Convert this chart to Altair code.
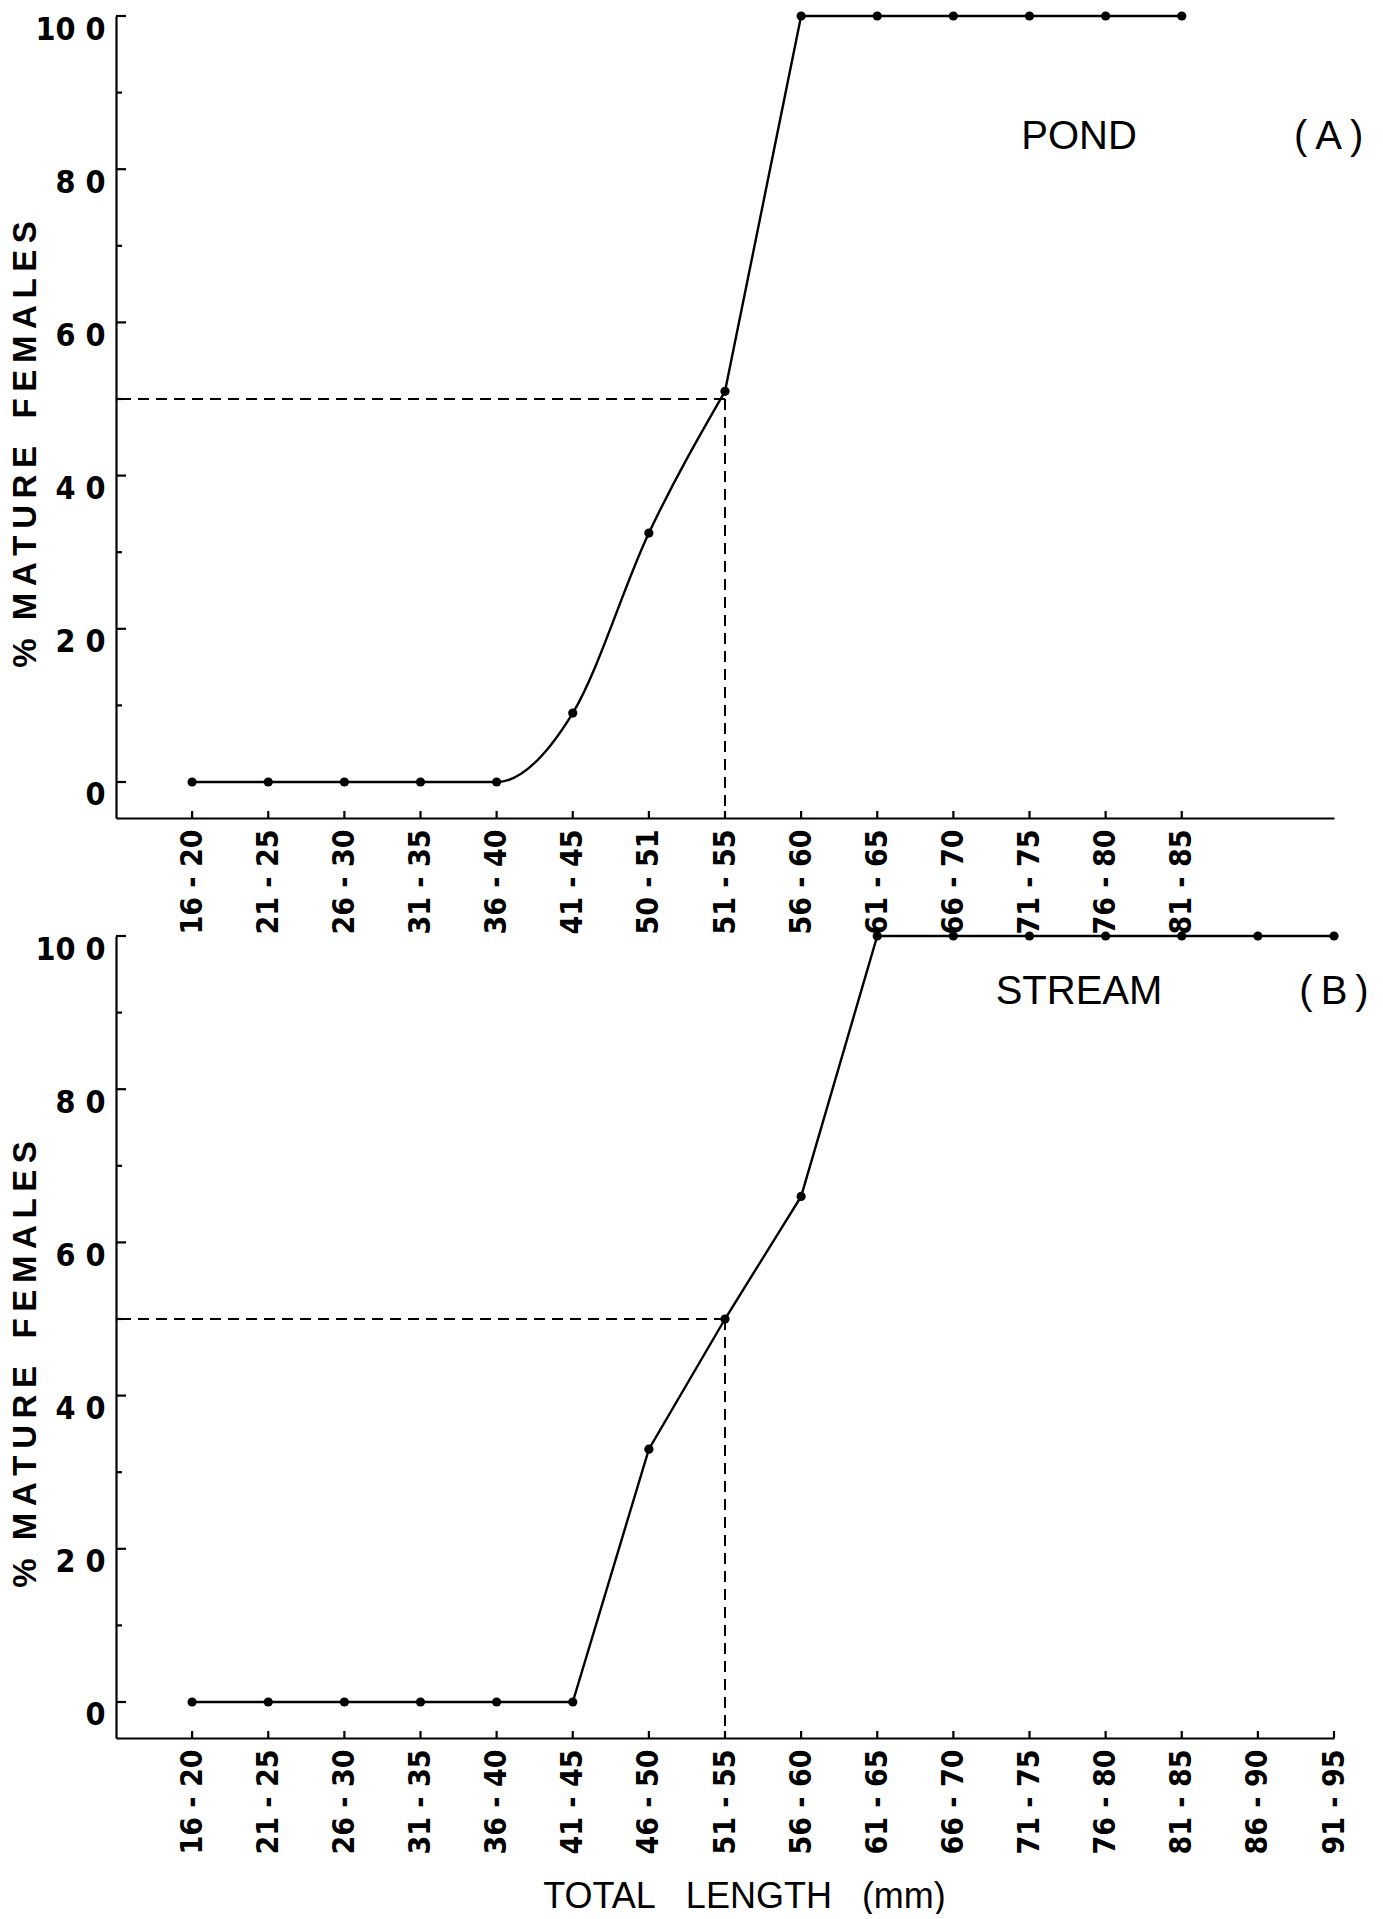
import json
import altair as alt
import pandas as pd

# ---------------- data ----------------
pond_labels = ["16-20", "21-25", "26-30", "31-35", "36-40", "41-45", "50-51",
               "51-55", "56-60", "61-65", "66-70", "71-75", "76-80", "81-85"]
pond_values = [0, 0, 0, 0, 0, 9, 32.5, 51, 100, 100, 100, 100, 100, 100]

stream_labels = ["16-20", "21-25", "26-30", "31-35", "36-40", "41-45", "46-50",
                 "51-55", "56-60", "61-65", "66-70", "71-75", "76-80", "81-85",
                 "86-90", "91-95"]
stream_values = [0, 0, 0, 0, 0, 0, 33, 50, 66, 100, 100, 100, 100, 100, 100, 100]

y_tick_values = [0, 20, 40, 60, 80, 100]
y_tick_labels = ["0", "2 0", "4 0", "6 0", "8 0", "10 0"]
y_minor_values = [10, 30, 50, 70, 90]

half_level = 50          # 50 % maturity level (dashed lines)
l50_class = "51-55"      # length class at 50 % maturity

# ---------------- layout / style ----------------
W = 1218
H = 802
N_SLOTS = 16
Y_MIN = -4.7
FONT_NUM = "Liberation Sans Narrow, DejaVu Sans Condensed, Liberation Sans, sans-serif"
FONT_TXT = "Liberation Sans, DejaVu Sans, sans-serif"
NB = "\u00a0"
TS = "\u2009"

y_title = "%" + NB * 2 + TS.join("MATURE") + NB * 3 + TS.join("FEMALES")
x_title = "TOTAL" + NB * 3 + "LENGTH" + NB * 3 + "(mm)"

xs = alt.Scale(domain=[0, N_SLOTS], nice=False, zero=False)
ys = alt.Scale(domain=[Y_MIN, 100], nice=False, zero=False)


def panel(labels, values, name, tag, name_xy, tag_xy, curve_until, with_xtitle):
    n = len(labels)
    df = pd.DataFrame({"i": list(range(1, n + 1)), "label": labels, "pct": values})
    label_expr = "replace(" + json.dumps(labels) + "[round(datum.value) - 1], '-', ' - ')"
    ylab_expr = json.dumps(y_tick_labels) + "[round(datum.value / 20)]"

    x_axis_kw = dict(
        values=list(range(1, n + 1)), labelExpr=label_expr, labelAngle=270,
        labelFont=FONT_NUM, labelFontSize=30, labelFontWeight="bold",
        labelPadding=11, ticks=False, grid=False, domainColor="black",
        domainWidth=2.2, labelColor="black", labelOverlap=False,
    )
    if with_xtitle:
        x_axis_kw.update(title=x_title, titleFont=FONT_TXT, titleFontSize=36,
                         titleFontWeight="normal", titleColor="black",
                         titleX=628, titleY=158, titleBaseline="middle",
                         titleAlign="center")
    else:
        x_axis_kw.update(title=None)
    x_axis = alt.Axis(**x_axis_kw)
    y_axis = alt.Axis(
        values=y_tick_values, labelExpr=ylab_expr, labelFont=FONT_NUM,
        labelFontSize=32, labelFontWeight="bold", labelColor="black",
        labelPadding=11, labelBaseline="alphabetic", labelOffset=23,
        ticks=False, grid=False, domainColor="black", domainWidth=2.2,
        title=y_title, titleFont=FONT_TXT, titleFontSize=33,
        titleFontWeight="bold", titleColor="black", titleX=-91, titleY=428,
        titleAngle=270, titleBaseline="middle", titleAlign="center",
    )

    def X(f):
        return alt.X(f, scale=xs, axis=x_axis)

    def Y(f):
        return alt.Y(f, scale=ys, axis=y_axis)

    base = alt.Chart(df)
    line_layers = []
    if curve_until is not None:
        line_layers.append(
            base.transform_filter(alt.datum.i <= curve_until)
            .mark_line(color="black", strokeWidth=2.4, interpolate="monotone")
            .encode(x=X("i:Q"), y=Y("pct:Q"))
        )
        line_layers.append(
            base.transform_filter(alt.datum.i >= curve_until)
            .mark_line(color="black", strokeWidth=2.4)
            .encode(x=X("i:Q"), y=Y("pct:Q"))
        )
    else:
        line_layers.append(
            base.mark_line(color="black", strokeWidth=2.4)
            .encode(x=X("i:Q"), y=Y("pct:Q"))
        )

    pts = base.mark_circle(color="black", opacity=1, size=85).encode(
        x=X("i:Q"), y=Y("pct:Q"))

    l50 = pd.DataFrame({"i50": [labels.index(l50_class) + 1], "half": [half_level]})
    hdash = alt.Chart(l50).mark_rule(color="black", strokeWidth=2, strokeDash=[11, 7]).encode(
        x=X("i50:Q"), x2=alt.value(0), y=Y("half:Q"))
    vdash = alt.Chart(l50).mark_rule(color="black", strokeWidth=2, strokeDash=[11, 7]).encode(
        x=X("i50:Q"), y=Y("half:Q"), y2=alt.value(H))

    ymaj = alt.Chart(pd.DataFrame({"t": y_tick_values})).mark_rule(color="black", strokeWidth=2.2).encode(
        y=Y("t:Q"), x=alt.value(0), x2=alt.value(10))
    ymin = alt.Chart(pd.DataFrame({"t": y_minor_values})).mark_rule(color="black", strokeWidth=2.2).encode(
        y=Y("t:Q"), x=alt.value(0), x2=alt.value(6))
    xtk = alt.Chart(pd.DataFrame({"i": list(range(1, n + 1))})).mark_rule(color="black", strokeWidth=2.2).encode(
        x=X("i:Q"), y=alt.value(H), y2=alt.value(H - 7))

    ann = pd.DataFrame({"txt": [name, tag],
                        "ax": [name_xy[0], tag_xy[0]],
                        "ay": [name_xy[1], tag_xy[1]]})
    texts = alt.Chart(ann).mark_text(font=FONT_TXT, fontSize=40, color="black",
                                     align="center", baseline="middle").encode(
        x=X("ax:Q"), y=Y("ay:Q"), text="txt:N")

    return alt.layer(*line_layers, pts, hdash, vdash, ymaj, ymin, xtk, texts).properties(
        width=W, height=H)


top = panel(pond_labels, pond_values, "POND", "(" + TS + "A" + TS + ")",
            (12.65, 84.2), (15.93, 84.2), 8, False)
bottom = panel(stream_labels, stream_values, "STREAM", "(" + TS + "B" + TS + ")",
               (12.65, 92.7), (16.0, 92.7), None, True)

chart = alt.vconcat(top, bottom, spacing=118, bounds="flush").properties(
    padding={"left": 9, "top": 11, "right": 5, "bottom": 0},
    background="white",
).configure_view(stroke=None)

chart.save("out.html", embed_options={"renderer": "svg", "actions": False})
